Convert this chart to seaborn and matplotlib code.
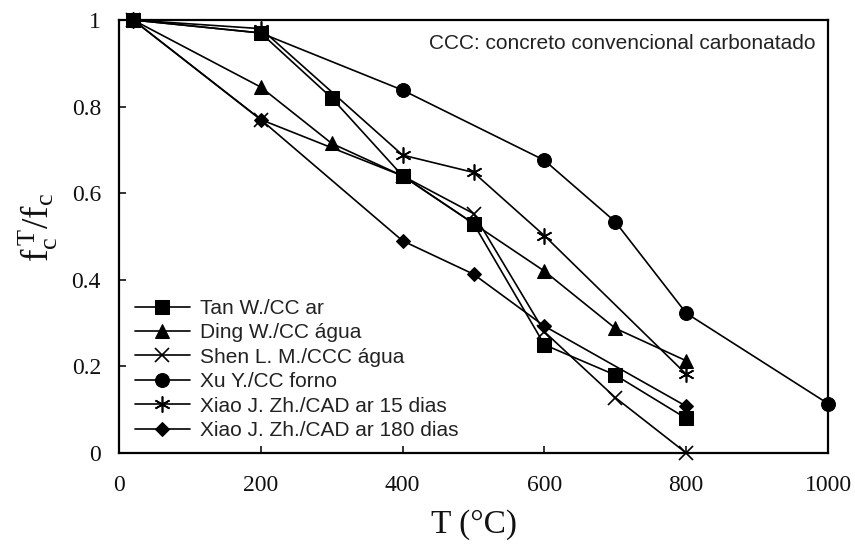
import matplotlib
matplotlib.use("Agg")
import matplotlib.pyplot as plt
import seaborn as sns
import pandas as pd

sns.set_theme(style="white")
plt.rcParams["font.family"] = ["Liberation Serif", "DejaVu Serif"]
plt.rcParams["mathtext.fontset"] = "custom"
plt.rcParams["mathtext.rm"] = "Liberation Serif"
plt.rcParams["mathtext.it"] = "Liberation Serif"

# Relative compressive strength f_c^T / f_c versus temperature
series_names = [
    "Tan W./CC ar",
    "Ding W./CC água",
    "Shen L. M./CCC água",
    "Xu Y./CC forno",
    "Xiao J. Zh./CAD ar 15 dias",
    "Xiao J. Zh./CAD ar 180 dias",
]

tan_T = [20, 200, 300, 400, 500, 600, 700, 800]
tan_f = [1.0, 0.97, 0.82, 0.64, 0.53, 0.25, 0.18, 0.08]

ding_T = [20, 200, 300, 400, 500, 600, 700, 800]
ding_f = [1.0, 0.845, 0.715, 0.64, 0.53, 0.42, 0.288, 0.213]

shen_T = [20, 200, 400, 500, 600, 700, 800]
shen_f = [1.0, 0.77, 0.64, 0.553, 0.28, 0.128, 0.0]

xu_T = [20, 200, 400, 600, 700, 800, 1000]
xu_f = [1.0, 0.97, 0.838, 0.676, 0.534, 0.323, 0.114]

xiao15_T = [20, 200, 400, 500, 600, 800]
xiao15_f = [1.0, 0.98, 0.688, 0.648, 0.502, 0.182]

xiao180_T = [20, 200, 400, 500, 600, 800]
xiao180_f = [1.0, 0.77, 0.49, 0.413, 0.293, 0.108]

x_ticks = [0, 200, 400, 600, 800, 1000]
y_ticks = [0, 0.2, 0.4, 0.6, 0.8, 1.0]
y_tick_labels = ["0", "0.2", "0.4", "0.6", "0.8", "1"]

series = [
    (tan_T, tan_f, dict(marker="s", markersize=10.5)),
    (ding_T, ding_f, dict(marker="^", markersize=10)),
    (shen_T, shen_f, dict(marker="x", markersize=9.5, markeredgewidth=1.2)),
    (xu_T, xu_f, dict(marker="o", markersize=10)),
    (xiao15_T, xiao15_f, dict(marker=(6, 2, 0), markersize=11.5, markeredgewidth=1.2)),
    (xiao180_T, xiao180_f, dict(marker="D", markersize=7.5)),
]

fig = plt.figure(figsize=(8.55, 5.47), dpi=100)
ax = fig.add_axes([119 / 855, 1 - 453 / 547, (828 - 119) / 855, (453 - 20) / 547])

for name, (T, f, style) in zip(series_names, series):
    df = pd.DataFrame({"T": T, "f": f})
    sns.lineplot(data=df, x="T", y="f", ax=ax, color="black", linewidth=1.2,
                 label=name, markeredgecolor="black", markerfacecolor="black",
                 clip_on=False, **style)

ax.set_xlim(0, 1000)
ax.set_ylim(0, 1)
ax.set_xticks(x_ticks)
ax.set_xticklabels([str(t) for t in x_ticks])
ax.set_yticks(y_ticks)
ax.set_yticklabels(y_tick_labels)
ax.tick_params(axis="both", direction="in", length=5, width=1.2, colors="#111111",
               labelsize=17, bottom=True, left=True)
ax.tick_params(axis="x", pad=16)
ax.tick_params(axis="y", pad=13)

for sp in ax.spines.values():
    sp.set_color("black")
    sp.set_linewidth(1.6)

ax.set_xlabel("T (°C)", fontsize=24, labelpad=9, color="#111111")
ax.set_ylabel(r"$\mathrm{f_c^{\,T}/f_c}$", fontsize=27, color="#111111")
ax.yaxis.set_label_coords(-0.083, 0.52)

ax.text(0.9817, 0.945, "CCC: concreto convencional carbonatado",
        transform=ax.transAxes, ha="right", va="center",
        family=["Liberation Sans", "DejaVu Sans"], fontsize=15, color="#222222")

leg = ax.legend(loc="lower left", bbox_to_anchor=(0.022, 0.03), frameon=False,
                prop={"family": ["Liberation Sans", "DejaVu Sans"], "size": 15},
                handlelength=2.65, handletextpad=0.5, labelspacing=0.26,
                borderaxespad=0.0, borderpad=0.0)
for t in leg.get_texts():
    t.set_color("#222222")

fig.savefig("out.png", dpi=100)
